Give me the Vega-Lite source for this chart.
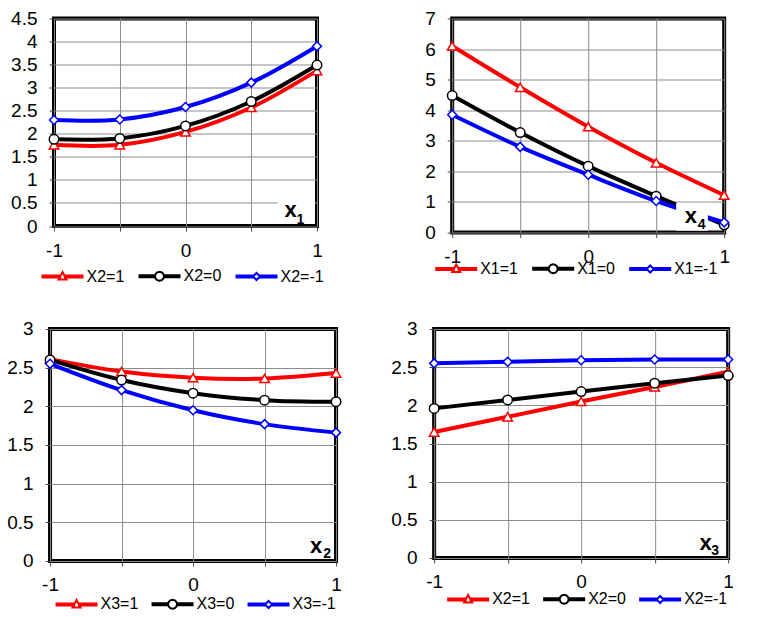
{
  "$schema": "https://vega.github.io/schema/vega-lite/v6.json",
  "padding": {"left": 4.6, "top": 7.5, "right": 0, "bottom": 0},
  "background": "white",
  "config": {
    "font": "Liberation Sans",
    "view": {"stroke": "#000000", "strokeWidth": 4},
    "axis": {"labelFont": "Liberation Sans", "labelFontSize": 19, "labelColor": "#000000", "tickColor": "#444444", "tickSize": 5, "tickWidth": 1, "domain": false, "gridColor": "#8c8c8c", "gridWidth": 1, "gridOpacity": 1, "labelFlush": false, "labelOverlap": false},
    "axisX": {"labelPadding": 10, "tickCount": 5},
    "axisY": {"labelPadding": 12, "tickCount": 8, "labelExpr": "format(datum.value, '~g')"},
    "legend": {"orient": "none", "direction": "horizontal", "labelFont": "Liberation Sans", "labelFontSize": 16, "labelColor": "#000000", "symbolSize": 400, "labelOffset": 23, "padding": 0, "symbolStrokeWidth": 2, "symbolOpacity": 1, "columnPadding": 11}
  },
  "resolve": {"scale": {"stroke": "independent", "shape": "independent"}},
  "spacing": 30.5,
  "center": true,
  "vconcat": [
    {
      "resolve": {"scale": {"stroke": "independent", "shape": "independent"}},
      "spacing": 95.2,
      "hconcat": [
        {
          "width": 263, "height": 207.5,
          "data": {"values": [
            {"x": -1, "v": 1.76, "s": "X2=1"}, {"x": -0.5, "v": 1.76, "s": "X2=1"}, {"x": 0, "v": 2.04, "s": "X2=1"}, {"x": 0.5, "v": 2.57, "s": "X2=1"}, {"x": 1, "v": 3.37, "s": "X2=1"},
            {"x": -1, "v": 1.88, "s": "X2=0"}, {"x": -0.5, "v": 1.9, "s": "X2=0"}, {"x": 0, "v": 2.17, "s": "X2=0"}, {"x": 0.5, "v": 2.7, "s": "X2=0"}, {"x": 1, "v": 3.49, "s": "X2=0"},
            {"x": -1, "v": 2.3, "s": "X2=-1"}, {"x": -0.5, "v": 2.31, "s": "X2=-1"}, {"x": 0, "v": 2.58, "s": "X2=-1"}, {"x": 0.5, "v": 3.11, "s": "X2=-1"}, {"x": 1, "v": 3.9, "s": "X2=-1"}
          ]},
          "layer": [
            {
              "mark": {"type": "line", "strokeWidth": 4, "interpolate": "catmull-rom"},
              "encoding": {
                "x": {"field": "x", "type": "quantitative", "scale": {"domain": [-1, 1], "nice": false, "zero": false}, "axis": {"values": [-1, -0.5, 0, 0.5, 1], "labelExpr": "datum.value === -1 ? '-1' : datum.value === 0 ? '0' : datum.value === 1 ? '1' : ''", "title": null}},
                "y": {"field": "v", "type": "quantitative", "scale": {"domain": [0, 4.5], "nice": false, "zero": false}, "axis": {"title": null}},
                "stroke": {"field": "s", "type": "nominal", "scale": {"domain": ["X2=1", "X2=0", "X2=-1"], "range": ["#ff0000", "#000000", "#0000ff"]}, "legend": {"title": null, "legendX": -12.5, "legendY": 246.5, "columnPadding": 11}}
              }
            },
            {
              "transform": [{"filter": "datum.s === 'X2=1'"}],
              "mark": {"type": "point", "shape": "triangle-up", "filled": true, "fill": "white", "strokeWidth": 1.5, "size": 90, "opacity": 1},
              "encoding": {"x": {"field": "x", "type": "quantitative"}, "y": {"field": "v", "type": "quantitative"}, "stroke": {"field": "s", "type": "nominal"}}
            },
            {
              "transform": [{"filter": "datum.s === 'X2=0'"}],
              "mark": {"type": "point", "shape": "circle", "filled": true, "fill": "white", "strokeWidth": 1.5, "size": 90, "opacity": 1},
              "encoding": {"x": {"field": "x", "type": "quantitative"}, "y": {"field": "v", "type": "quantitative"}, "stroke": {"field": "s", "type": "nominal"}}
            },
            {
              "transform": [{"filter": "datum.s === 'X2=-1'"}],
              "mark": {"type": "point", "shape": "diamond", "filled": true, "fill": "white", "strokeWidth": 1.5, "size": 80, "opacity": 1},
              "encoding": {"x": {"field": "x", "type": "quantitative"}, "y": {"field": "v", "type": "quantitative"}, "stroke": {"field": "s", "type": "nominal"}}
            },
            {
              "mark": {"type": "point", "filled": false, "opacity": 0, "size": 4},
              "encoding": {
                "x": {"field": "x", "type": "quantitative"}, "y": {"field": "v", "type": "quantitative"},
                "stroke": {"field": "s", "type": "nominal"},
                "shape": {"field": "s", "type": "nominal", "scale": {"domain": ["X2=1", "X2=0", "X2=-1"], "range": ["M-1,-0.1H0.76V0.1H-1Z M1.24,-0.1H3V0.1H1.24Z M1,-0.45L1.4,0.3L0.6,0.3Z", "M-1,-0.1H0.55V0.1H-1Z M1.45,-0.1H3V0.1H1.45Z M1.45,0L1.39,0.225L1.225,0.39L1,0.45L0.775,0.39L0.61,0.225L0.55,0L0.61,-0.225L0.775,-0.39L1,-0.45L1.225,-0.39L1.39,-0.225Z", "M-1,-0.1H0.65V0.1H-1Z M1.35,-0.1H3V0.1H1.35Z M1,-0.35L1.35,0L1,0.35L0.65,0Z"]}, "legend": {"title": null, "legendX": -12.5, "legendY": 246.5, "columnPadding": 11}}
              }
            },
            {
              "data": {"values": [{}]},
              "mark": {"type": "rect", "fill": "white"},
              "encoding": {
                "x": {"datum": 0.7, "type": "quantitative", "axis": {"values": [-1, -0.5, 0, 0.5, 1], "labelExpr": "datum.value === -1 ? '-1' : datum.value === 0 ? '0' : datum.value === 1 ? '1' : ''", "title": null}},
                "x2": {"datum": 0.985},
                "y": {"datum": 0.06, "type": "quantitative", "axis": {"title": null}},
                "y2": {"datum": 0.6}
              }
            },
            {
              "data": {"values": [{}]},
              "mark": {"type": "text", "text": "x", "fontSize": 22, "fontWeight": "bold", "align": "center", "baseline": "alphabetic", "color": "#000000"},
              "encoding": {
                "x": {"datum": 0.8, "type": "quantitative", "axis": {"values": [-1, -0.5, 0, 0.5, 1], "labelExpr": "datum.value === -1 ? '-1' : datum.value === 0 ? '0' : datum.value === 1 ? '1' : ''", "title": null}},
                "y": {"datum": 0.194, "type": "quantitative", "axis": {"title": null}}
              }
            },
            {
              "data": {"values": [{}]},
              "mark": {"type": "text", "text": "1", "fontSize": 14, "fontWeight": "bold", "align": "center", "baseline": "alphabetic", "color": "#000000"},
              "encoding": {
                "x": {"datum": 0.874, "type": "quantitative", "axis": {"values": [-1, -0.5, 0, 0.5, 1], "labelExpr": "datum.value === -1 ? '-1' : datum.value === 0 ? '0' : datum.value === 1 ? '1' : ''", "title": null}},
                "y": {"datum": 0.05, "type": "quantitative", "axis": {"title": null}}
              }
            }
          ]
        },
        {
          "width": 272, "height": 214,
          "data": {"values": [
            {"x": -1, "v": 6.1, "s": "X1=1"}, {"x": -0.5, "v": 4.75, "s": "X1=1"}, {"x": 0, "v": 3.46, "s": "X1=1"}, {"x": 0.5, "v": 2.28, "s": "X1=1"}, {"x": 1, "v": 1.22, "s": "X1=1"},
            {"x": -1, "v": 4.48, "s": "X1=0"}, {"x": -0.5, "v": 3.27, "s": "X1=0"}, {"x": 0, "v": 2.17, "s": "X1=0"}, {"x": 0.5, "v": 1.19, "s": "X1=0"}, {"x": 1, "v": 0.25, "s": "X1=0"},
            {"x": -1, "v": 3.85, "s": "X1=-1"}, {"x": -0.5, "v": 2.8, "s": "X1=-1"}, {"x": 0, "v": 1.89, "s": "X1=-1"}, {"x": 0.5, "v": 1.03, "s": "X1=-1"}, {"x": 1, "v": 0.33, "s": "X1=-1"}
          ]},
          "layer": [
            {
              "mark": {"type": "line", "strokeWidth": 4, "interpolate": "catmull-rom"},
              "encoding": {
                "x": {"field": "x", "type": "quantitative", "scale": {"domain": [-1, 1], "nice": false, "zero": false}, "axis": {"values": [-1, -0.5, 0, 0.5, 1], "labelExpr": "datum.value === -1 ? '-1' : datum.value === 0 ? '0' : datum.value === 1 ? '1' : ''", "title": null}},
                "y": {"field": "v", "type": "quantitative", "scale": {"domain": [0, 7], "nice": false, "zero": false}, "axis": {"title": null}},
                "stroke": {"field": "s", "type": "nominal", "scale": {"domain": ["X1=1", "X1=0", "X1=-1"], "range": ["#ff0000", "#000000", "#0000ff"]}, "legend": {"title": null, "legendX": -17, "legendY": 239, "columnPadding": 11}}
              }
            },
            {
              "transform": [{"filter": "datum.s === 'X1=1'"}],
              "mark": {"type": "point", "shape": "triangle-up", "filled": true, "fill": "white", "strokeWidth": 1.5, "size": 90, "opacity": 1},
              "encoding": {"x": {"field": "x", "type": "quantitative"}, "y": {"field": "v", "type": "quantitative"}, "stroke": {"field": "s", "type": "nominal"}}
            },
            {
              "transform": [{"filter": "datum.s === 'X1=0'"}],
              "mark": {"type": "point", "shape": "circle", "filled": true, "fill": "white", "strokeWidth": 1.5, "size": 90, "opacity": 1},
              "encoding": {"x": {"field": "x", "type": "quantitative"}, "y": {"field": "v", "type": "quantitative"}, "stroke": {"field": "s", "type": "nominal"}}
            },
            {
              "transform": [{"filter": "datum.s === 'X1=-1'"}],
              "mark": {"type": "point", "shape": "diamond", "filled": true, "fill": "white", "strokeWidth": 1.5, "size": 80, "opacity": 1},
              "encoding": {"x": {"field": "x", "type": "quantitative"}, "y": {"field": "v", "type": "quantitative"}, "stroke": {"field": "s", "type": "nominal"}}
            },
            {
              "mark": {"type": "point", "filled": false, "opacity": 0, "size": 4},
              "encoding": {
                "x": {"field": "x", "type": "quantitative"}, "y": {"field": "v", "type": "quantitative"},
                "stroke": {"field": "s", "type": "nominal"},
                "shape": {"field": "s", "type": "nominal", "scale": {"domain": ["X1=1", "X1=0", "X1=-1"], "range": ["M-1,-0.1H0.76V0.1H-1Z M1.24,-0.1H3V0.1H1.24Z M1,-0.45L1.4,0.3L0.6,0.3Z", "M-1,-0.1H0.55V0.1H-1Z M1.45,-0.1H3V0.1H1.45Z M1.45,0L1.39,0.225L1.225,0.39L1,0.45L0.775,0.39L0.61,0.225L0.55,0L0.61,-0.225L0.775,-0.39L1,-0.45L1.225,-0.39L1.39,-0.225Z", "M-1,-0.1H0.65V0.1H-1Z M1.35,-0.1H3V0.1H1.35Z M1,-0.35L1.35,0L1,0.35L0.65,0Z"]}, "legend": {"title": null, "legendX": -17, "legendY": 239, "columnPadding": 11}}
              }
            },
            {
              "data": {"values": [{}]},
              "mark": {"type": "rect", "fill": "white"},
              "encoding": {
                "x": {"datum": 0.647, "type": "quantitative", "axis": {"values": [-1, -0.5, 0, 0.5, 1], "labelExpr": "datum.value === -1 ? '-1' : datum.value === 0 ? '0' : datum.value === 1 ? '1' : ''", "title": null}},
                "x2": {"datum": 0.88},
                "y": {"datum": 0.06, "type": "quantitative", "axis": {"title": null}},
                "y2": {"datum": 0.97}
              }
            },
            {
              "data": {"values": [{}]},
              "mark": {"type": "text", "text": "x", "fontSize": 22, "fontWeight": "bold", "align": "center", "baseline": "alphabetic", "color": "#000000"},
              "encoding": {
                "x": {"datum": 0.754, "type": "quantitative", "axis": {"values": [-1, -0.5, 0, 0.5, 1], "labelExpr": "datum.value === -1 ? '-1' : datum.value === 0 ? '0' : datum.value === 1 ? '1' : ''", "title": null}},
                "y": {"datum": 0.3, "type": "quantitative", "axis": {"title": null}}
              }
            },
            {
              "data": {"values": [{}]},
              "mark": {"type": "text", "text": "4", "fontSize": 14, "fontWeight": "bold", "align": "center", "baseline": "alphabetic", "color": "#000000"},
              "encoding": {
                "x": {"datum": 0.835, "type": "quantitative", "axis": {"values": [-1, -0.5, 0, 0.5, 1], "labelExpr": "datum.value === -1 ? '-1' : datum.value === 0 ? '0' : datum.value === 1 ? '1' : ''", "title": null}},
                "y": {"datum": 0.13, "type": "quantitative", "axis": {"title": null}}
              }
            }
          ]
        }
      ]
    },
    {
      "resolve": {"scale": {"stroke": "independent", "shape": "independent"}},
      "spacing": 42.1,
      "hconcat": [
        {
          "width": 286, "height": 232,
          "data": {"values": [
            {"x": -1, "v": 2.61, "s": "X3=1"}, {"x": -0.5, "v": 2.45, "s": "X3=1"}, {"x": 0, "v": 2.37, "s": "X3=1"}, {"x": 0.5, "v": 2.36, "s": "X3=1"}, {"x": 1, "v": 2.43, "s": "X3=1"},
            {"x": -1, "v": 2.6, "s": "X3=0"}, {"x": -0.5, "v": 2.34, "s": "X3=0"}, {"x": 0, "v": 2.17, "s": "X3=0"}, {"x": 0.5, "v": 2.08, "s": "X3=0"}, {"x": 1, "v": 2.06, "s": "X3=0"},
            {"x": -1, "v": 2.55, "s": "X3=-1"}, {"x": -0.5, "v": 2.21, "s": "X3=-1"}, {"x": 0, "v": 1.95, "s": "X3=-1"}, {"x": 0.5, "v": 1.77, "s": "X3=-1"}, {"x": 1, "v": 1.66, "s": "X3=-1"}
          ]},
          "layer": [
            {
              "mark": {"type": "line", "strokeWidth": 4, "interpolate": "catmull-rom"},
              "encoding": {
                "x": {"field": "x", "type": "quantitative", "scale": {"domain": [-1, 1], "nice": false, "zero": false}, "axis": {"values": [-1, -0.5, 0, 0.5, 1], "labelExpr": "datum.value === -1 ? '-1' : datum.value === 0 ? '0' : datum.value === 1 ? '1' : ''", "title": null}},
                "y": {"field": "v", "type": "quantitative", "scale": {"domain": [0, 3], "nice": false, "zero": false}, "axis": {"title": null}},
                "stroke": {"field": "s", "type": "nominal", "scale": {"domain": ["X3=1", "X3=0", "X3=-1"], "range": ["#ff0000", "#000000", "#0000ff"]}, "legend": {"title": null, "legendX": 5.5, "legendY": 264, "columnPadding": 10}}
              }
            },
            {
              "transform": [{"filter": "datum.s === 'X3=1'"}],
              "mark": {"type": "point", "shape": "triangle-up", "filled": true, "fill": "white", "strokeWidth": 1.5, "size": 90, "opacity": 1},
              "encoding": {"x": {"field": "x", "type": "quantitative"}, "y": {"field": "v", "type": "quantitative"}, "stroke": {"field": "s", "type": "nominal"}}
            },
            {
              "transform": [{"filter": "datum.s === 'X3=0'"}],
              "mark": {"type": "point", "shape": "circle", "filled": true, "fill": "white", "strokeWidth": 1.5, "size": 90, "opacity": 1},
              "encoding": {"x": {"field": "x", "type": "quantitative"}, "y": {"field": "v", "type": "quantitative"}, "stroke": {"field": "s", "type": "nominal"}}
            },
            {
              "transform": [{"filter": "datum.s === 'X3=-1'"}],
              "mark": {"type": "point", "shape": "diamond", "filled": true, "fill": "white", "strokeWidth": 1.5, "size": 80, "opacity": 1},
              "encoding": {"x": {"field": "x", "type": "quantitative"}, "y": {"field": "v", "type": "quantitative"}, "stroke": {"field": "s", "type": "nominal"}}
            },
            {
              "mark": {"type": "point", "filled": false, "opacity": 0, "size": 4},
              "encoding": {
                "x": {"field": "x", "type": "quantitative"}, "y": {"field": "v", "type": "quantitative"},
                "stroke": {"field": "s", "type": "nominal"},
                "shape": {"field": "s", "type": "nominal", "scale": {"domain": ["X3=1", "X3=0", "X3=-1"], "range": ["M-1,-0.1H0.76V0.1H-1Z M1.24,-0.1H3V0.1H1.24Z M1,-0.45L1.4,0.3L0.6,0.3Z", "M-1,-0.1H0.55V0.1H-1Z M1.45,-0.1H3V0.1H1.45Z M1.45,0L1.39,0.225L1.225,0.39L1,0.45L0.775,0.39L0.61,0.225L0.55,0L0.61,-0.225L0.775,-0.39L1,-0.45L1.225,-0.39L1.39,-0.225Z", "M-1,-0.1H0.65V0.1H-1Z M1.35,-0.1H3V0.1H1.35Z M1,-0.35L1.35,0L1,0.35L0.65,0Z"]}, "legend": {"title": null, "legendX": 5.5, "legendY": 264, "columnPadding": 10}}
              }
            },
            {
              "data": {"values": [{}]},
              "mark": {"type": "text", "text": "x", "fontSize": 22, "fontWeight": "bold", "align": "center", "baseline": "alphabetic", "color": "#000000"},
              "encoding": {
                "x": {"datum": 0.86, "type": "quantitative", "axis": {"values": [-1, -0.5, 0, 0.5, 1], "labelExpr": "datum.value === -1 ? '-1' : datum.value === 0 ? '0' : datum.value === 1 ? '1' : ''", "title": null}},
                "y": {"datum": 0.104, "type": "quantitative", "axis": {"title": null}}
              }
            },
            {
              "data": {"values": [{}]},
              "mark": {"type": "text", "text": "2", "fontSize": 14, "fontWeight": "bold", "align": "center", "baseline": "alphabetic", "color": "#000000"},
              "encoding": {
                "x": {"datum": 0.937, "type": "quantitative", "axis": {"values": [-1, -0.5, 0, 0.5, 1], "labelExpr": "datum.value === -1 ? '-1' : datum.value === 0 ? '0' : datum.value === 1 ? '1' : ''", "title": null}},
                "y": {"datum": 0.039, "type": "quantitative", "axis": {"title": null}}
              }
            }
          ]
        },
        {
          "width": 294, "height": 229,
          "data": {"values": [
            {"x": -1, "v": 1.65, "s": "X2=1"}, {"x": -0.5, "v": 1.85, "s": "X2=1"}, {"x": 0, "v": 2.05, "s": "X2=1"}, {"x": 0.5, "v": 2.24, "s": "X2=1"}, {"x": 1, "v": 2.44, "s": "X2=1"},
            {"x": -1, "v": 1.96, "s": "X2=0"}, {"x": -0.5, "v": 2.07, "s": "X2=0"}, {"x": 0, "v": 2.18, "s": "X2=0"}, {"x": 0.5, "v": 2.29, "s": "X2=0"}, {"x": 1, "v": 2.39, "s": "X2=0"},
            {"x": -1, "v": 2.55, "s": "X2=-1"}, {"x": -0.5, "v": 2.57, "s": "X2=-1"}, {"x": 0, "v": 2.59, "s": "X2=-1"}, {"x": 0.5, "v": 2.6, "s": "X2=-1"}, {"x": 1, "v": 2.6, "s": "X2=-1"}
          ]},
          "layer": [
            {
              "mark": {"type": "line", "strokeWidth": 4, "interpolate": "linear"},
              "encoding": {
                "x": {"field": "x", "type": "quantitative", "scale": {"domain": [-1, 1], "nice": false, "zero": false}, "axis": {"values": [-1, -0.5, 0, 0.5, 1], "labelExpr": "datum.value === -1 ? '-1' : datum.value === 0 ? '0' : datum.value === 1 ? '1' : ''", "title": null}},
                "y": {"field": "v", "type": "quantitative", "scale": {"domain": [0, 3], "nice": false, "zero": false}, "axis": {"title": null}},
                "stroke": {"field": "s", "type": "nominal", "scale": {"domain": ["X2=1", "X2=0", "X2=-1"], "range": ["#ff0000", "#000000", "#0000ff"]}, "legend": {"title": null, "legendX": 13, "legendY": 259, "columnPadding": 10}}
              }
            },
            {
              "transform": [{"filter": "datum.s === 'X2=1'"}],
              "mark": {"type": "point", "shape": "triangle-up", "filled": true, "fill": "white", "strokeWidth": 1.5, "size": 90, "opacity": 1},
              "encoding": {"x": {"field": "x", "type": "quantitative"}, "y": {"field": "v", "type": "quantitative"}, "stroke": {"field": "s", "type": "nominal"}}
            },
            {
              "transform": [{"filter": "datum.s === 'X2=0'"}],
              "mark": {"type": "point", "shape": "circle", "filled": true, "fill": "white", "strokeWidth": 1.5, "size": 90, "opacity": 1},
              "encoding": {"x": {"field": "x", "type": "quantitative"}, "y": {"field": "v", "type": "quantitative"}, "stroke": {"field": "s", "type": "nominal"}}
            },
            {
              "transform": [{"filter": "datum.s === 'X2=-1'"}],
              "mark": {"type": "point", "shape": "diamond", "filled": true, "fill": "white", "strokeWidth": 1.5, "size": 80, "opacity": 1},
              "encoding": {"x": {"field": "x", "type": "quantitative"}, "y": {"field": "v", "type": "quantitative"}, "stroke": {"field": "s", "type": "nominal"}}
            },
            {
              "mark": {"type": "point", "filled": false, "opacity": 0, "size": 4},
              "encoding": {
                "x": {"field": "x", "type": "quantitative"}, "y": {"field": "v", "type": "quantitative"},
                "stroke": {"field": "s", "type": "nominal"},
                "shape": {"field": "s", "type": "nominal", "scale": {"domain": ["X2=1", "X2=0", "X2=-1"], "range": ["M-1,-0.1H0.76V0.1H-1Z M1.24,-0.1H3V0.1H1.24Z M1,-0.45L1.4,0.3L0.6,0.3Z", "M-1,-0.1H0.55V0.1H-1Z M1.45,-0.1H3V0.1H1.45Z M1.45,0L1.39,0.225L1.225,0.39L1,0.45L0.775,0.39L0.61,0.225L0.55,0L0.61,-0.225L0.775,-0.39L1,-0.45L1.225,-0.39L1.39,-0.225Z", "M-1,-0.1H0.65V0.1H-1Z M1.35,-0.1H3V0.1H1.35Z M1,-0.35L1.35,0L1,0.35L0.65,0Z"]}, "legend": {"title": null, "legendX": 13, "legendY": 259, "columnPadding": 10}}
              }
            },
            {
              "data": {"values": [{}]},
              "mark": {"type": "text", "text": "x", "fontSize": 22, "fontWeight": "bold", "align": "center", "baseline": "alphabetic", "color": "#000000"},
              "encoding": {
                "x": {"datum": 0.847, "type": "quantitative", "axis": {"values": [-1, -0.5, 0, 0.5, 1], "labelExpr": "datum.value === -1 ? '-1' : datum.value === 0 ? '0' : datum.value === 1 ? '1' : ''", "title": null}},
                "y": {"datum": 0.104, "type": "quantitative", "axis": {"title": null}}
              }
            },
            {
              "data": {"values": [{}]},
              "mark": {"type": "text", "text": "3", "fontSize": 14, "fontWeight": "bold", "align": "center", "baseline": "alphabetic", "color": "#000000"},
              "encoding": {
                "x": {"datum": 0.912, "type": "quantitative", "axis": {"values": [-1, -0.5, 0, 0.5, 1], "labelExpr": "datum.value === -1 ? '-1' : datum.value === 0 ? '0' : datum.value === 1 ? '1' : ''", "title": null}},
                "y": {"datum": 0.035, "type": "quantitative", "axis": {"title": null}}
              }
            }
          ]
        }
      ]
    }
  ]
}
